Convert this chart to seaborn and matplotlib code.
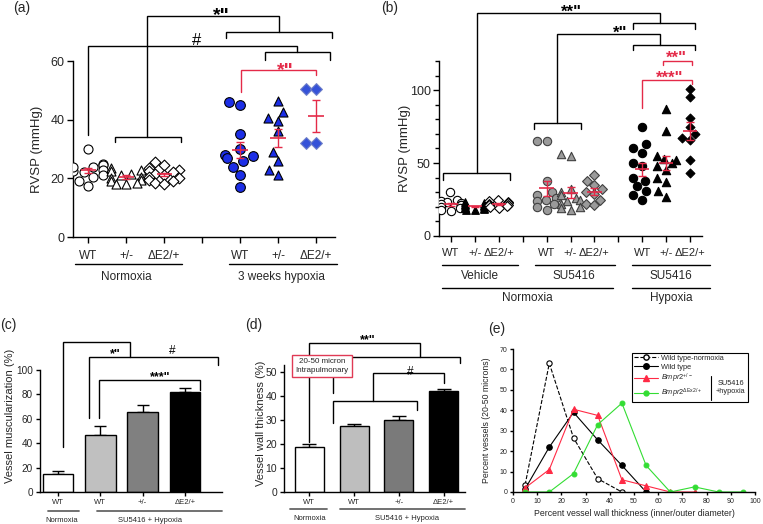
import numpy as np
import seaborn as sns
import matplotlib.pyplot as plt
from matplotlib.lines import Line2D
from matplotlib.patches import Rectangle

# ---------------- data ----------------
# (a) RVSP (mmHg), normoxia vs 3 weeks hypoxia
a_ticks = ["WT", "+/-", "ΔE2/+", "", "WT", "+/-", "ΔE2/+"]
a_norm_wt = [30, 25, 24.5, 24, 23, 22.5, 22, 21, 20.5, 19, 17.5, 24]
a_norm_het = [23.5, 23, 22.5, 21.5, 21, 20.5, 20, 19.5, 19, 18.5, 18, 18]
a_norm_ex2 = [25.5, 24.5, 23.5, 23, 22.5, 22, 21.5, 21, 20.5, 20, 19.5, 19, 18.5, 18]
a_hyp_wt = [46, 45, 35, 30, 28, 27.5, 27, 26, 24, 21, 17]
a_hyp_het = [46.5, 42.5, 40.5, 39.5, 36, 29, 26, 23, 21]
a_hyp_ex2 = [50.5, 50.5, 32, 32]

# (b) RVSP (mmHg), vehicle / SU5416 normoxia / SU5416 hypoxia
b_ticks = ["WT", "+/-", "ΔE2/+", "", "WT", "+/-", "ΔE2/+", "", "WT", "+/-", "ΔE2/+"]
b_veh_wt = [30, 25, 24, 23, 22.5, 22, 21.5, 21, 20, 19, 18, 17]
b_veh_het = [23, 22.5, 22, 21.5, 21, 20.5, 20, 19.5, 19, 18.5, 18, 18]
b_veh_ex2 = [25, 24, 23, 22.5, 22, 21.5, 21, 20.5, 20, 19.5]
b_su_wt = [65, 65, 38, 30, 28, 26, 25, 24, 22, 20, 18]
b_su_het = [56, 55, 32, 30, 28, 26, 25, 24, 22, 20, 19, 18]
b_su_ex2 = [42, 38, 35, 32, 30, 29, 25, 22, 21]
b_hyp_wt = [75, 63, 60, 57, 50, 48, 40, 38, 34, 31, 28, 25]
b_hyp_het = [87, 72, 55, 53, 52, 50, 48, 45, 40, 37, 31, 27]
b_hyp_ex2 = [101, 95, 81, 75, 70, 67, 66, 52, 43]

# (c) vessel muscularization (%)
bar_ids = ["Normoxia WT", "SU WT", "SU +/-", "SU ΔE2/+"]
bar_ticks = ["WT", "WT", "+/-", "ΔE2/+"]
c_vals = [15, 46.5, 65.5, 82]
c_err = [2, 7.5, 5.5, 3]

# (d) vessel wall thickness (%)
d_vals = [18.6, 27.3, 29.8, 42.1]
d_err = [1.4, 0.9, 1.7, 0.7]

# (e) distribution of wall thickness
e_wt_norm_x = [5, 15, 25, 35, 45]
e_wt_norm_y = [3.5, 63, 26.5, 6.5, 0]
e_wt_x = [5, 15, 25, 35, 45, 55]
e_wt_y = [1.5, 22, 39, 25.5, 13, 0]
e_het_x = [5, 15, 25, 35, 45, 55, 65, 75]
e_het_y = [2, 11, 40.5, 37.5, 6, 3, 0, 0]
e_ex2_x = [5, 15, 25, 35, 45, 55, 65, 75, 85, 95]
e_ex2_y = [0, 0, 9, 33, 43.5, 13, 0, 2.5, 0, 0]

RED = "#e42a48"
BLUE = "#1c2ee6"

W, H = 763, 524
sns.set_theme(style="ticks")
plt.rcParams["font.family"] = ["Liberation Sans", "DejaVu Sans"]
plt.rcParams["mathtext.fontset"] = "custom"
plt.rcParams["mathtext.rm"] = "Liberation Sans"
plt.rcParams["mathtext.it"] = "Liberation Sans:italic"

fig = plt.figure(figsize=(W / 100, H / 100), dpi=100)


def panel(l, t, r, b):
    return fig.add_axes([l / W, 1 - b / H, (r - l) / W, (b - t) / H])


def style(ax, size, ticklen=4):
    sns.despine(ax=ax)
    for s in ["left", "bottom"]:
        ax.spines[s].set_linewidth(1)
        ax.spines[s].set_color("black")
    ax.tick_params(length=ticklen, width=1, labelsize=size, color="black", pad=2)


def frac(ax, px):
    return -px / (ax.get_position().height * H)


def group_line(ax, x0, x1, off, color="black", lw=1):
    yy = frac(ax, off)
    ax.plot([x0, x1], [yy, yy], transform=ax.get_xaxis_transform(),
            color=color, lw=lw, clip_on=False)


def group_text(ax, x, off, s, size):
    ax.text(x, frac(ax, off), s, transform=ax.get_xaxis_transform(),
            ha="center", va="center", fontsize=size)


def bracket(ax, x0, x1, y, y0, y1, color="black", lw=1):
    ax.plot([x0, x0, x1, x1], [y0, y, y, y1], color=color, lw=lw,
            clip_on=False, solid_joinstyle="miter", zorder=4)


def stars(ax, x, y, s, size, color="black", bold=True):
    # centre the (raised) star glyphs on the given point
    ax.annotate(s, (x, y), xytext=(0, -0.52 * size), textcoords="offset points",
                ha="center", va="baseline", fontsize=size, color=color,
                fontweight="bold" if bold else "normal", annotation_clip=False)


def dots(ax, pos, vals, marker, face, edge, size, hw):
    sns.swarmplot(x=[pos] * len(vals), y=vals, native_scale=True, orient="x",
                  marker=marker, color=face, edgecolor=edge, linewidth=0.8,
                  size=size, ax=ax, zorder=3, legend=False)
    m = np.mean(vals)
    se = np.std(vals, ddof=1) / np.sqrt(len(vals))
    ax.hlines(m, pos - hw, pos + hw, color=RED, lw=1.2, zorder=5)
    ax.errorbar(pos, m, yerr=se, fmt="none", ecolor=RED, capsize=3,
                elinewidth=1, capthick=1, zorder=5)


# ---------------- (a) ----------------
ax = panel(73, 61, 335, 237)
dots(ax, 0, a_norm_wt, "o", "white", "black", 6.5, 0.2)
dots(ax, 1, a_norm_het, "^", "white", "black", 6.5, 0.2)
dots(ax, 2, a_norm_ex2, "D", "white", "black", 5.5, 0.2)
dots(ax, 4, a_hyp_wt, "o", BLUE, "black", 7, 0.2)
dots(ax, 5, a_hyp_het, "^", BLUE, "black", 6.5, 0.2)
dots(ax, 6, a_hyp_ex2, "D", "#3552d8", "#7080c8", 6, 0.2)
ax.set_xlim(-0.4, 6.5)
ax.set_ylim(0, 60)
ax.set_yticks([0, 20, 40, 60])
ax.set_xticks(range(7))
ax.set_xticklabels(a_ticks)
style(ax, 8.5)
ax.tick_params(axis="y", labelsize=9)
ax.tick_params(axis="x", pad=5)
ax.set_ylabel("RVSP (mmHg)", fontsize=9.5)
ax.yaxis.set_label_coords(-0.115, 0.5)
group_line(ax, -0.35, 2.47, 27)
group_line(ax, 3.7, 6.55, 27)
group_text(ax, 1.0, 40, "Normoxia", 8.5)
group_text(ax, 5.1, 40, "3 weeks hypoxia", 8.5)
bracket(ax, 0.71, 2.45, 34, 32.4, 32.4)
bracket(ax, 3.64, 6.41, 69.8, 68, 68)
bracket(ax, 1.54, 5.03, 75.2, 34, 69.8)
bracket(ax, 4.65, 6.36, 63.2, 60.3, 60.3)
bracket(ax, 0.0, 5.49, 65.2, 34.8, 63.2)
bracket(ax, 4.02, 6.01, 56.9, 49.5, 55.2, color=RED)
stars(ax, 3.51, 77.4, '*"', 14)
stars(ax, 2.86, 68.3, "#", 12, bold=False)
stars(ax, 5.18, 58.7, '*"', 14, color=RED)

# ---------------- (b) ----------------
ax = panel(439, 61, 702, 236)
GRAY = "#9a9a9a"
dots(ax, 0, b_veh_wt, "o", "white", "black", 6, 0.3)
dots(ax, 1, b_veh_het, "^", "black", "black", 5.5, 0.3)
dots(ax, 2, b_veh_ex2, "D", "white", "black", 5, 0.3)
dots(ax, 4, b_su_wt, "o", GRAY, "#404040", 6, 0.3)
dots(ax, 5, b_su_het, "^", GRAY, "#404040", 6, 0.3)
dots(ax, 6, b_su_ex2, "D", GRAY, "#404040", 5, 0.3)
dots(ax, 8, b_hyp_wt, "o", "black", "black", 6, 0.3)
dots(ax, 9, b_hyp_het, "^", "black", "black", 6, 0.3)
dots(ax, 10, b_hyp_ex2, "D", "black", "black", 4.5, 0.3)
ax.set_xlim(-0.5, 10.5)
ax.set_ylim(0, 120)
ax.set_yticks([0, 50, 100])
ax.set_yticks(range(0, 121, 10), minor=True)
ax.set_xticks(range(11))
ax.set_xticklabels(b_ticks)
style(ax, 8)
ax.tick_params(axis="y", labelsize=9)
ax.tick_params(axis="y", which="minor", length=3, width=1, color="black")
ax.tick_params(axis="x", pad=5)
ax.set_ylabel("RVSP (mmHg)", fontsize=9.5)
ax.yaxis.set_label_coords(-0.105, 0.5)
group_line(ax, -0.38, 2.8, 29)
group_line(ax, 3.5, 6.86, 29)
group_line(ax, 7.57, 10.84, 29)
group_text(ax, 1.2, 40, "Vehicle", 8.5)
group_text(ax, 5.15, 40, "SU5416", 8.5)
group_text(ax, 9.2, 40, "SU5416", 8.5)
group_line(ax, -0.38, 6.78, 52)
group_line(ax, 7.57, 10.84, 52)
group_text(ax, 3.2, 62, "Normoxia", 8.5)
group_text(ax, 9.2, 62, "Hypoxia", 8.5)
bracket(ax, -0.32, 2.47, 42.9, 38.4, 38.4)
bracket(ax, 3.47, 5.43, 77.2, 73.7, 73.7)
bracket(ax, 7.63, 10.2, 146.1, 142.2, 142.2)
bracket(ax, 1.07, 8.74, 153.2, 42.9, 146.1)
bracket(ax, 7.63, 10.2, 131.3, 127.4, 127.4)
bracket(ax, 4.42, 8.74, 138.8, 77.2, 131.3)
bracket(ax, 8.86, 10.07, 120.1, 117.1, 117.1, color=RED)
bracket(ax, 8.0, 10.07, 107.3, 88.1, 104.1, color=RED)
stars(ax, 5.05, 156.6, '**"', 12)
stars(ax, 7.07, 141.6, '*"', 12)
stars(ax, 9.44, 124.7, '**"', 12, color=RED)
stars(ax, 9.13, 111.0, '***"', 12, color=RED)

# ---------------- (c) ----------------
ax = panel(40, 370, 222, 492)
sns.barplot(x=bar_ids, y=c_vals, hue=bar_ids,
            palette=["white", "#c0c0c0", "#808080", "black"], legend=False,
            width=0.72, edgecolor="black", linewidth=1, ax=ax, zorder=2)
ax.errorbar(range(4), c_vals, yerr=[[0] * 4, c_err], fmt="none",
            ecolor="black", capsize=4.5, elinewidth=1, capthick=1, zorder=1)
ax.set_xlim(-0.43, 3.88)
ax.set_ylim(0, 100)
ax.set_yticks(range(0, 101, 20))
ax.set_xticks(range(4))
ax.set_xticklabels(bar_ticks)
style(ax, 7.2, 3)
ax.tick_params(axis="x", labelsize=5.5, pad=2)
ax.set_ylabel("Vessel muscularization (%)", fontsize=8)
ax.yaxis.set_label_coords(-0.135, 0.62)
group_line(ax, -0.24, 0.5, 19, color="#666666", lw=1.3)
group_line(ax, 0.92, 3.88, 19, color="#666666", lw=1.3)
group_text(ax, 0.09, 28, "Normoxia", 5.5)
group_text(ax, 2.17, 28, "SU5416 + Hypoxia", 5.5)
bracket(ax, 0.74, 3.79, 110.9, 60.3, 104)
bracket(ax, 0.12, 1.7, 123.3, 37, 110.9)
bracket(ax, 0.97, 3.36, 91.8, 60.3, 83.6)
stars(ax, 1.35, 115.6, '*"', 9)
stars(ax, 2.69, 118.3, "#", 8.5, bold=False)
stars(ax, 2.41, 96.7, '***"', 9)

# ---------------- (d) ----------------
ax = panel(284, 364.5, 465, 492)
sns.barplot(x=bar_ids, y=d_vals, hue=bar_ids,
            palette=["white", "#bebebe", "#7a7a7a", "black"], legend=False,
            width=0.65, edgecolor="black", linewidth=1, ax=ax, zorder=2)
ax.errorbar(range(4), d_vals, yerr=[[0] * 4, d_err], fmt="none",
            ecolor="black", capsize=5, elinewidth=1, capthick=1, zorder=1)
ax.set_xlim(-0.566, 3.48)
ax.set_ylim(0, 53)
ax.set_yticks(range(0, 51, 10))
ax.set_xticks(range(4))
ax.set_xticklabels(bar_ticks)
style(ax, 7.5, 3)
ax.tick_params(axis="x", labelsize=5.5, pad=2)
ax.set_ylabel("Vessel wall thickness (%)", fontsize=8)
ax.yaxis.set_label_coords(-0.1, 0.54)
group_line(ax, -0.43, 0.4, 17, color="#666666", lw=1.3)
group_line(ax, 0.69, 3.48, 17, color="#666666", lw=1.3)
group_text(ax, 0.0, 26, "Normoxia", 5.5)
group_text(ax, 2.19, 26, "SU5416 + Hypoxia", 5.5)
bracket(ax, 0.54, 3.36, 56.3, 41, 53.8)
bracket(ax, 0.0, 2.48, 61.8, 20.8, 56.3)
bracket(ax, 0.54, 2.4, 37.8, 28.5, 34)
bracket(ax, 1.43, 3.0, 49.3, 37.8, 45.4)
stars(ax, 1.31, 64.5, '**"', 9)
stars(ax, 2.25, 51.0, "#", 8.5, bold=False)
ax.text(0.28, 52.4, "20-50 micron\nIntrapulmonary", ha="center", va="center",
        fontsize=5.8, linespacing=1.3, zorder=6,
        bbox=dict(boxstyle="square,pad=0.45", fc="white", ec="#e03a55", lw=1))

# ---------------- (e) ----------------
ax = panel(513, 349, 755, 492)
GREEN = "#33dd33"
RED_E = "#ff2a45"
sns.lineplot(x=e_wt_norm_x, y=e_wt_norm_y, ax=ax, color="black", lw=0.8,
             linestyle="--", marker="o", markersize=3.8, markerfacecolor="white",
             markeredgecolor="black", markeredgewidth=0.8)
sns.lineplot(x=e_wt_x, y=e_wt_y, ax=ax, color="black", lw=0.8, marker="o",
             markersize=4, markeredgecolor="black")
sns.lineplot(x=e_het_x, y=e_het_y, ax=ax, color=RED_E, lw=0.8, marker="^",
             markersize=4, markeredgecolor=RED_E)
sns.lineplot(x=e_ex2_x, y=e_ex2_y, ax=ax, color=GREEN, lw=0.8, marker="o",
             markersize=3.5, markeredgecolor=GREEN)
ax.set_xlim(0, 100)
ax.set_ylim(0, 70)
ax.set_xticks(range(0, 101, 10))
ax.set_yticks(range(0, 71, 10))
style(ax, 5, 2)
ax.set_xlabel("Percent vessel wall thickness (inner/outer diameter)", fontsize=6.3, labelpad=3)
ax.set_ylabel("Percent vessels (20-50 microns)", fontsize=6.3)
ax.yaxis.set_label_coords(-0.09, 0.5)
handles = [
    Line2D([], [], color="black", ls="--", lw=0.8, marker="o", ms=3.8, mfc="white", mec="black"),
    Line2D([], [], color="black", lw=0.8, marker="o", ms=4),
    Line2D([], [], color=RED_E, lw=0.8, marker="^", ms=4),
    Line2D([], [], color=GREEN, lw=0.8, marker="o", ms=3.5),
]
labels = ["Wild type-normoxia", "Wild type", r"$\mathit{Bmpr2}^{+/-}$",
          r"$\mathit{Bmpr2}^{\Delta \mathrm{Ex2/+}}$"]
ax.legend(handles, labels, loc="upper left", bbox_to_anchor=(0.49, 0.975),
          frameon=False, fontsize=5.3, handlelength=3.3, handletextpad=0.4,
          labelspacing=0.2, borderaxespad=0, borderpad=0.3)
ax.add_patch(Rectangle((0.49, 0.63), 0.48, 0.34, transform=ax.transAxes,
                       fill=False, lw=0.8, ec="black", clip_on=False))
ax.plot([0.82, 0.82], [0.64, 0.81], transform=ax.transAxes, color="black", lw=0.8)
ax.text(0.9, 0.73, "SU5416\n+hypoxia", transform=ax.transAxes, ha="center",
        va="center", fontsize=5.3, linespacing=1.3)

# ---------------- panel letters ----------------
for s, x, y in [("(a)", 22, 8), ("(b)", 390, 8), ("(c)", 8, 325),
                ("(d)", 254, 325), ("(e)", 497, 329)]:
    fig.text(x / W, 1 - y / H, s, ha="center", va="center", fontsize=10)

fig.savefig("out.png", dpi=100)
